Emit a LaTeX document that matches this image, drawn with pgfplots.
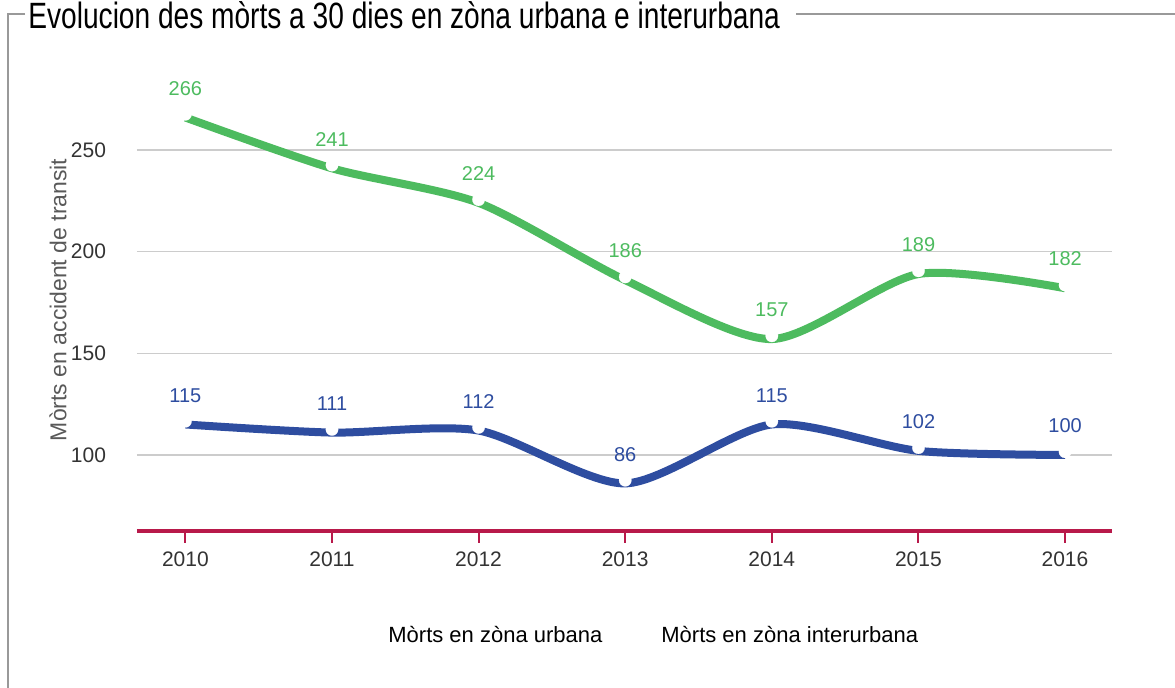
\documentclass[border=0pt]{standalone}
\usepackage{pgfplots}
\pgfplotsset{compat=1.18}
\usepackage{fontspec}
\setmainfont{Liberation Sans}
\definecolor{urb}{HTML}{4DBB5F}
\definecolor{inter}{HTML}{2E4DA0}
\definecolor{base}{HTML}{B8194A}
\definecolor{txt}{HTML}{333333}
\definecolor{frame}{HTML}{999999}
\begin{document}
\begin{tikzpicture}
% 1 px of the reference = 0.5pt
\path[use as bounding box] (0pt,0pt) rectangle (587.5pt,344pt);
\draw[frame, line width=0.7pt] (12.5pt,337pt) -- (4pt,337pt) -- (4pt,0pt);
\draw[frame, line width=0.7pt] (398pt,337pt) -- (587.5pt,337pt);
\node[anchor=base west, inner sep=0pt] at (14pt,329.5pt)
  {\scalebox{0.768}[1]{\fontsize{18.3}{21}\selectfont Evolucion des mòrts a 30 dies en zòna urbana e interurbana}};
\begin{axis}[
    at={(68.5pt,78.5pt)}, anchor=south west,
    scale only axis,
    width=487.5pt, height=231.15pt,
    xmin=2009.67, xmax=2016.32,
    ymin=62.6, ymax=290,
    xtick={2010,...,2016},
    ytick={100,150,200,250},
    x tick label style={/pgf/number format/1000 sep={}},
    /pgf/number format/assume math mode=true,
    tick label style={text=txt, font=\fontsize{10.5}{12}\selectfont},
    axis x line*=bottom, axis y line*=left,
    x axis line style={draw=base, line width=1.75pt, -},
    y axis line style={draw=none},
    tick align=outside,
    xtick style={draw=base, line width=1pt},
    major tick length=6pt,
    ytick style={draw=none},
    yticklabel style={xshift=-6pt},
    xticklabel style={yshift=-1pt},
    ymajorgrids,
    grid style={draw=black!20, line width=0.75pt},
    ylabel={Mòrts en accident de transit},
    ylabel style={at={(axis description cs:-0.081,0.5)}, anchor=center, text=black!65, font=\fontsize{11.5}{13}\selectfont},
    legend columns=2,
    legend image code/.code={},
    legend style={at={(axis description cs:0.201,-0.227)}, anchor=west, draw=none, fill=none,
      inner sep=0pt, font=\fontsize{11}{13}\selectfont,
      /tikz/every odd column/.append style={column sep=25.5pt}},
    nodes near coords,
    every node near coord/.append style={anchor=center, yshift=13pt, font=\fontsize{10}{12}\selectfont},
]
\addplot[urb, line width=4pt, smooth, tension=0.45, mark=*, mark size=3.1pt,
  mark options={draw=white, fill=white, line width=0.1pt, yshift=1.6pt},
  every node near coord/.append style={text=urb}]
  coordinates {(2010,266) (2011,241) (2012,224) (2013,186) (2014,157) (2015,189) (2016,182)};
\addlegendentry{Mòrts en zòna urbana}
\addplot[inter, line width=4pt, smooth, tension=0.45, mark=*, mark size=3.1pt,
  mark options={draw=white, fill=white, line width=0.1pt, yshift=1.6pt},
  every node near coord/.append style={text=inter}]
  coordinates {(2010,115) (2011,111) (2012,112) (2013,86) (2014,115) (2015,102) (2016,100)};
\addlegendentry{Mòrts en zòna interurbana}
\end{axis}
\end{tikzpicture}
\end{document}
